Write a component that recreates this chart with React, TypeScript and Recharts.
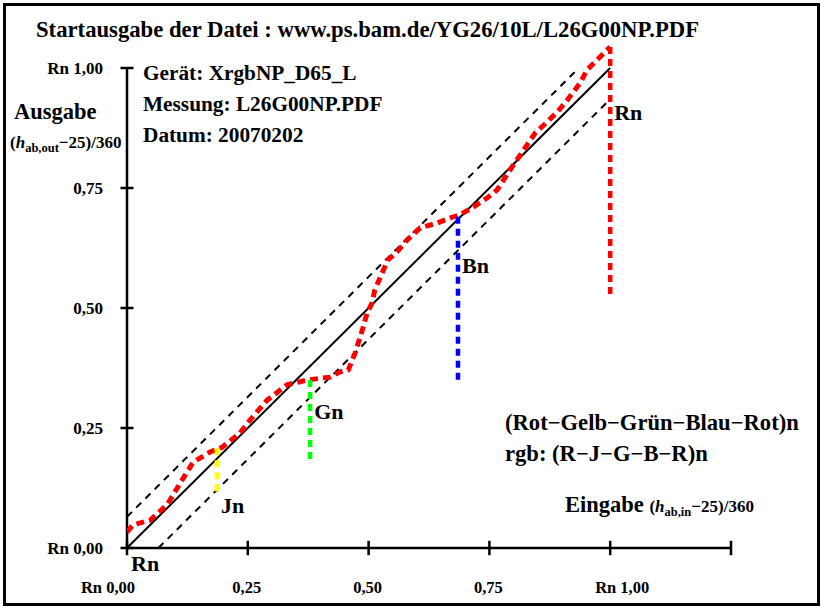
import {
  LineChart,
  Line,
  XAxis,
  YAxis,
  ReferenceLine,
  ReferenceDot,
} from 'recharts';

const FONT = "'Liberation Serif', 'Times New Roman', serif";

// axis ticks
const xTicks = [0, 0.25, 0.5, 0.75, 1.0];
const xTickLabels = ['Rn 0,00', '0,25', '0,50', '0,75', 'Rn 1,00'];
const xTickMarks = [0, 0.25, 0.5, 0.75, 1.0, 1.25];
const yTicks = [0, 0.25, 0.5, 0.75, 1.0];
const yTickLabels = ['Rn 0,00', '0,25', '0,50', '0,75', 'Rn 1,00'];

// measured output hue vs input hue (red dashed curve)
const hueIn = [
  0, 0.012, 0.048, 0.083, 0.11, 0.137, 0.172, 0.197, 0.234, 0.255, 0.29, 0.331,
  0.373, 0.42, 0.441, 0.458, 0.472, 0.487, 0.497, 0.507, 0.513, 0.528, 0.54,
  0.559, 0.58, 0.607, 0.642, 0.669, 0.689, 0.716, 0.745, 0.766, 0.797, 0.814,
  0.845, 0.87, 0.89, 0.911, 0.938, 0.952, 0.973, 1.0,
];
const hueOut = [
  0.033, 0.048, 0.058, 0.09, 0.135, 0.179, 0.2, 0.21, 0.24, 0.267, 0.308, 0.34,
  0.35, 0.356, 0.367, 0.371, 0.406, 0.454, 0.49, 0.51, 0.538, 0.573, 0.6,
  0.617, 0.642, 0.667, 0.677, 0.688, 0.694, 0.71, 0.729, 0.746, 0.794, 0.819,
  0.865, 0.888, 0.908, 0.933, 0.969, 0.996, 1.017, 1.044,
];

// reference diagonal and tolerance band
const diagX = [0, 1];
const diagY = [0, 1];
const upperX = [0, 0.935];
const upperY = [0.065, 1.0];
const lowerX = [0.065, 1.0];
const lowerY = [0, 0.935];

// colour markers: name, x, y from, y to, colour
const markerNames = ['Jn', 'Gn', 'Bn', 'Rn'];
const markerX = [0.186, 0.379, 0.685, 1.0];
const markerYTop = [0.208, 0.35, 0.69, 1.044];
const markerYBottom = [0.11, 0.177, 0.346, 0.525];
const markerColors = ['#ffff00', '#00ff00', '#0000ff', '#ff0000'];
const markerLabelY = [0.09, 0.285, 0.59, 0.908];

const toPoints = (xs: number[], ys: number[]) => xs.map((x, i) => ({ x, y: ys[i] }));

const curve = toPoints(hueIn, hueOut);
const diag = toPoints(diagX, diagY);
const upper = toPoints(upperX, upperY);
const lower = toPoints(lowerX, lowerY);

const XTick = (props: any) => {
  const { x, y, payload, index } = props;
  const shift = index === 0 ? -19 : index === 4 ? 12 : -1;
  return (
    <text
      x={x + shift}
      y={y}
      dy="0.71em"
      textAnchor="middle"
      fontFamily={FONT}
      fontWeight="bold"
      fontSize={16.5}
      fill="#000"
    >
      {xTickLabels[xTicks.indexOf(payload.value)]}
    </text>
  );
};

const YTick = (props: any) => {
  const { x, y, payload } = props;
  return (
    <text
      x={x}
      y={y}
      dy="0.35em"
      textAnchor="end"
      fontFamily={FONT}
      fontWeight="bold"
      fontSize={17}
      fill="#000"
    >
      {yTickLabels[yTicks.indexOf(payload.value)]}
    </text>
  );
};

const tagShape = (text: string, dx: number, dy: number) => (p: any) => (
  <text
    x={p.cx + dx}
    y={p.cy + dy}
    fontFamily={FONT}
    fontWeight="bold"
    fontSize={22}
    fill="#000"
  >
    {text}
  </text>
);

export default function App() {
  return (
    <div
      style={{
        position: 'absolute',
        left: 0,
        top: 0,
        width: 821,
        height: 607,
        background: '#fff',
        fontFamily: FONT,
      }}
    >
      <div
        style={{
          position: 'absolute',
          left: 3,
          top: 3,
          width: 811,
          height: 597,
          border: '3px solid #000',
        }}
      />
      <LineChart
        width={821}
        height={607}
        margin={{ top: 20, right: 90, bottom: 14, left: 27 }}
        style={{ position: 'absolute', left: 0, top: 0 }}
      >
        <XAxis
          type="number"
          dataKey="x"
          domain={[0, 1.25]}
          ticks={xTicks}
          height={45}
          tickLine={false}
          tickSize={31}
          tickMargin={2}
          axisLine={{ stroke: '#000', strokeWidth: 2.5 }}
          tick={<XTick />}
          allowDataOverflow
        />
        <YAxis
          type="number"
          dataKey="y"
          domain={[0, 1.1]}
          ticks={yTicks}
          width={100}
          tickLine={false}
          tickSize={22}
          tickMargin={2}
          axisLine={false}
          tick={<YTick />}
          allowDataOverflow
        />
        <ReferenceLine
          segment={[{ x: 0, y: 0 }, { x: 0, y: 1 }]}
          stroke="#000"
          strokeWidth={2.5}
          ifOverflow="visible"
        />
        {yTicks.map((v) => (
          <ReferenceLine
            key={'yt' + v}
            segment={[{ x: -0.0135, y: v }, { x: 0.0135, y: v }]}
            stroke="#000"
            strokeWidth={2.5}
            ifOverflow="visible"
          />
        ))}
        {xTickMarks.map((v) => (
          <ReferenceLine
            key={'xt' + v}
            segment={[{ x: v, y: -0.015 }, { x: v, y: 0.015 }]}
            stroke="#000"
            strokeWidth={2.5}
            ifOverflow="visible"
          />
        ))}
        <Line
          data={diag}
          dataKey="y"
          stroke="#000"
          strokeWidth={2}
          dot={false}
          isAnimationActive={false}
        />
        <Line
          data={upper}
          dataKey="y"
          stroke="#000"
          strokeWidth={2}
          strokeDasharray="7 6"
          dot={false}
          isAnimationActive={false}
        />
        <Line
          data={lower}
          dataKey="y"
          stroke="#000"
          strokeWidth={2}
          strokeDasharray="7 6"
          dot={false}
          isAnimationActive={false}
        />
        <Line
          data={curve}
          dataKey="y"
          type="linear"
          stroke="#ff0000"
          strokeWidth={5}
          strokeDasharray="8 5"
          dot={false}
          isAnimationActive={false}
        />
        {markerNames.map((name, i) => (
          <Line
            key={'m' + name}
            data={[
              { x: markerX[i], y: markerYTop[i] },
              { x: markerX[i], y: markerYBottom[i] },
            ]}
            dataKey="y"
            stroke={markerColors[i]}
            strokeWidth={4.5}
            strokeDasharray="7 5"
            dot={false}
            isAnimationActive={false}
          />
        ))}
        {markerNames.map((name, i) => (
          <ReferenceDot
            key={'tag' + name}
            x={markerX[i]}
            y={markerLabelY[i]}
            r={0}
            ifOverflow="visible"
            shape={tagShape(name, 4, 8)}
          />
        ))}
        <ReferenceDot
          x={0}
          y={0}
          r={0}
          ifOverflow="visible"
          shape={tagShape('Rn', 4, 23)}
        />
      </LineChart>
      <svg
        width={821}
        height={607}
        style={{ position: 'absolute', left: 0, top: 0, pointerEvents: 'none' }}
        fontFamily={FONT}
        fontWeight="bold"
      >
        <text x={36} y={37} fontSize={22.7}>
          Startausgabe der Datei : www.ps.bam.de/YG26/10L/L26G00NP.PDF
        </text>
        <text x={143} y={80} fontSize={21.3}>Gerät: XrgbNP_D65_L</text>
        <text x={143} y={111} fontSize={21.3}>Messung: L26G00NP.PDF</text>
        <text x={143} y={142} fontSize={21.3}>Datum: 20070202</text>
        <text x={14} y={119} fontSize={22.5}>Ausgabe</text>
        <text x={10} y={148} fontSize={17}>
          (<tspan fontStyle="italic">h</tspan>
          <tspan fontSize={12.5} dy={4}>ab,out</tspan>
          <tspan dy={-4}>−25)/360</tspan>
        </text>
        <text x={505} y={430} fontSize={22.6}>(Rot−Gelb−Grün−Blau−Rot)n</text>
        <text x={505} y={461} fontSize={22.6}>rgb: (R−J−G−B−R)n</text>
        <text x={565} y={512} fontSize={22.5}>
          Eingabe{' '}
          <tspan fontSize={17}>
            (<tspan fontStyle="italic">h</tspan>
            <tspan fontSize={12.5} dy={4}>ab,in</tspan>
            <tspan dy={-4}>−25)/360</tspan>
          </tspan>
        </text>
      </svg>
    </div>
  );
}
